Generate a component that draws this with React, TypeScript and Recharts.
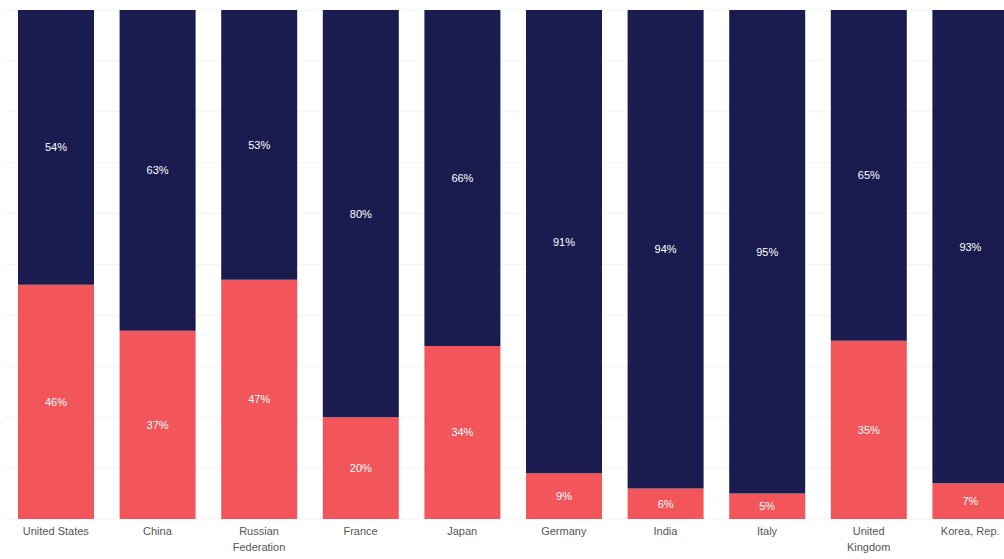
import { BarChart, Bar, XAxis, YAxis, CartesianGrid, LabelList } from "recharts";

const countries = [
  "United States",
  "China",
  "Russian Federation",
  "France",
  "Japan",
  "Germany",
  "India",
  "Italy",
  "United Kingdom",
  "Korea, Rep.",
];

// wrapped tick text, as in the picture
const tickLines: Record<string, string[]> = {
  "Russian Federation": ["Russian", "Federation"],
  "United Kingdom": ["United", "Kingdom"],
};

const redShare = [46, 37, 47, 20, 34, 9, 6, 5, 35, 7];
const navyShare = [54, 63, 53, 80, 66, 91, 94, 95, 65, 93];

const NAVY = "#1a1c50";
const RED = "#f2555a";

const data = countries.map((name, i) => ({
  name,
  red: redShare[i],
  navy: navyShare[i],
}));

const CountryTick = (props: any) => {
  const { x, y, payload } = props;
  const lines = tickLines[payload.value] || [payload.value];
  return (
    <g transform={`translate(${x},${y})`}>
      {lines.map((line, i) => (
        <text
          key={i}
          x={0}
          y={0}
          dy={8 + i * 16}
          textAnchor="middle"
          fill="#555"
          fontSize={11}
          fontFamily="Liberation Sans, Arial, sans-serif"
        >
          {line}
        </text>
      ))}
    </g>
  );
};

const pct = (v: any) => `${v}%`;

const App = () => {
  return (
    <div
      style={{
        position: "fixed",
        left: 0,
        top: 0,
        width: 1004,
        height: 559,
        overflow: "hidden",
        background: "#fff",
      }}
    >
      <BarChart
        width={1021}
        height={559}
        data={data}
        margin={{ top: 10, right: 0, bottom: 0, left: 5 }}
      >
        <CartesianGrid vertical={false} stroke="#f3f3f3" />
        <YAxis hide domain={[0, 100]} ticks={[0, 10, 20, 30, 40, 50, 60, 70, 80, 90, 100]} />
        <XAxis
          dataKey="name"
          height={40}
          axisLine={false}
          tickLine={false}
          interval={0}
          tick={<CountryTick />}
        />
        <Bar dataKey="red" stackId="s" fill={RED} barSize={76} isAnimationActive={false}>
          <LabelList
            dataKey="red"
            position="center"
            formatter={pct}
            fill="#fff"
            fontSize={11}
            fontFamily="Liberation Sans, Arial, sans-serif"
          />
        </Bar>
        <Bar dataKey="navy" stackId="s" fill={NAVY} barSize={76} isAnimationActive={false}>
          <LabelList
            dataKey="navy"
            position="center"
            formatter={pct}
            fill="#fff"
            fontSize={11}
            fontFamily="Liberation Sans, Arial, sans-serif"
          />
        </Bar>
      </BarChart>
    </div>
  );
};

export default App;
